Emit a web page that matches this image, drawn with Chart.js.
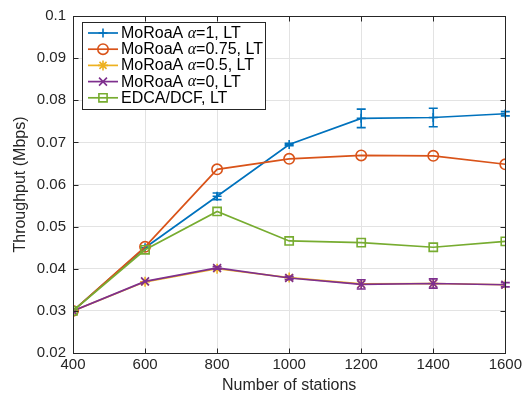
<!DOCTYPE html>
<html>
<head>
<meta charset="utf-8">
<script src="https://cdn.jsdelivr.net/npm/chart.js@4/dist/chart.umd.min.js"></script>
<style>
  html, body { margin: 0; padding: 0; background: #fff; }
  #wrap { width: 525px; height: 403px; position: relative; }
</style>
</head>
<body>
<div id="wrap"><canvas id="thr"></canvas></div>
<script>
// Throughput vs. number of stations
const STATIONS = [400, 600, 800, 1000, 1200, 1400, 1600];
const Y_TICKS  = [0.02, 0.03, 0.04, 0.05, 0.06, 0.07, 0.08, 0.09, 0.1];

const ALPHA_1    = [0.0300, 0.0450, 0.0572, 0.0695, 0.0757, 0.0759, 0.0768];
const ALPHA_1_ERR = [0, 0, 0.0008, 0.0003, 0.0022, 0.0022, 0.0005];
const ALPHA_075  = [0.0300, 0.0452, 0.0636, 0.0661, 0.0669, 0.0668, 0.0648];
const ALPHA_05   = [0.0300, 0.0369, 0.0400, 0.0379, 0.0364, 0.0365, 0.0362];
const ALPHA_0    = [0.0300, 0.0370, 0.0402, 0.0378, 0.0363, 0.0365, 0.0362];
const ALPHA_0_ERR = [0, 0, 0.0003, 0.0004, 0.0011, 0.0011, 0.0005];
const EDCA_DCF   = [0.0300, 0.0445, 0.0536, 0.0466, 0.0462, 0.0451, 0.0465];

const SERIES = [
    { pre: 'MoRoaA ', alpha: true, post: '=1, LT',    data: ALPHA_1,   err: ALPHA_1_ERR, color: '#0072BD', style: 'cross',    r: 4.5 },
    { pre: 'MoRoaA ', alpha: true, post: '=0.75, LT', data: ALPHA_075, err: null,        color: '#D95319', style: 'circle',   r: 5.2 },
    { pre: 'MoRoaA ', alpha: true, post: '=0.5, LT',  data: ALPHA_05,  err: null,        color: '#EDB120', style: 'star',     r: 5 },
    { pre: 'MoRoaA ', alpha: true, post: '=0, LT',    data: ALPHA_0,   err: ALPHA_0_ERR, color: '#7E2F8E', style: 'crossRot', r: 5.6 },
    { pre: 'EDCA/DCF, LT', alpha: false, post: '',    data: EDCA_DCF,  err: null,        color: '#77AC30', style: 'rect',     r: 5.8 },
];

const AXIS = '#262626';
const FONT = "'Liberation Sans', Arial, sans-serif";

const datasets = SERIES.map((s, i) => ({
    label: s.pre + (s.alpha ? 'α' : '') + s.post,
    data: STATIONS.map((x, j) => ({ x, y: s.data[j] })),
    borderColor: s.color,
    backgroundColor: 'rgba(0,0,0,0)',
    borderWidth: 1.7,
    pointStyle: s.style,
    pointRadius: s.r,
    pointBorderWidth: 1.6,
    pointBorderColor: s.color,
    pointBackgroundColor: 'rgba(0,0,0,0)',
    tension: 0,
    order: SERIES.length - i,   // later series drawn on top
    errors: s.err,
}));

// error bars, drawn right after their own series
const errorBars = {
    id: 'errorBars',
    afterDatasetDraw(chart, args) {
        const ds = chart.data.datasets[args.index];
        if (!ds.errors) return;
        const ys = chart.scales.y;
        const ctx = chart.ctx;
        ctx.save();
        ctx.strokeStyle = ds.borderColor;
        ctx.lineWidth = 1.6;
        args.meta.data.forEach((pt, j) => {
            const e = ds.errors[j];
            if (!e) return;
            const v = ds.data[j].y;
            const top = ys.getPixelForValue(v + e);
            const bot = ys.getPixelForValue(v - e);
            ctx.beginPath();
            ctx.moveTo(pt.x, top); ctx.lineTo(pt.x, bot);
            ctx.moveTo(pt.x - 4.5, top); ctx.lineTo(pt.x + 4.5, top);
            ctx.moveTo(pt.x - 4.5, bot); ctx.lineTo(pt.x + 4.5, bot);
            ctx.stroke();
        });
        ctx.restore();
    },
};

// box, inward ticks and the legend
const frame = {
    id: 'frame',
    afterDraw(chart) {
        const { ctx, chartArea: a, scales } = chart;
        const L = Math.round(a.left) + 0.5, R = Math.round(a.right) + 0.5;
        const T = Math.round(a.top) + 0.5, B = Math.round(a.bottom) + 0.5;
        ctx.save();
        ctx.strokeStyle = AXIS;
        ctx.lineWidth = 1;
        ctx.strokeRect(L, T, R - L, B - T);
        ctx.beginPath();
        STATIONS.forEach(v => {
            const x = Math.round(scales.x.getPixelForValue(v)) + 0.5;
            ctx.moveTo(x, B); ctx.lineTo(x, B - 5);
            ctx.moveTo(x, T); ctx.lineTo(x, T + 5);
        });
        Y_TICKS.forEach(v => {
            const y = Math.round(scales.y.getPixelForValue(v)) + 0.5;
            ctx.moveTo(L, y); ctx.lineTo(L + 5, y);
            ctx.moveTo(R, y); ctx.lineTo(R - 5, y);
        });
        ctx.stroke();

        // legend
        const bx = 82.5, by = 22.5, bw = 183, bh = 87, rowH = 16.2;
        ctx.fillStyle = '#fff';
        ctx.fillRect(bx, by, bw, bh);
        ctx.strokeStyle = AXIS;
        ctx.strokeRect(bx, by, bw, bh);
        const draw = Chart.helpers && Chart.helpers.drawPoint;
        SERIES.forEach((s, i) => {
            const cy = by + 10.5 + i * rowH;
            ctx.strokeStyle = s.color;
            ctx.lineWidth = 1.7;
            ctx.beginPath();
            ctx.moveTo(88, cy); ctx.lineTo(118, cy);
            ctx.stroke();
            if (draw) {
                ctx.lineWidth = 1.6;
                ctx.fillStyle = 'rgba(0,0,0,0)';
                draw(ctx, { pointStyle: s.style, radius: s.r, borderWidth: 1.6, rotation: 0 }, 103, cy);
            }
            ctx.fillStyle = '#000';
            ctx.textBaseline = 'middle';
            let tx = 121;
            ctx.font = '16px ' + FONT;
            ctx.fillText(s.pre, tx, cy + 0.5);
            tx += ctx.measureText(s.pre).width;
            if (s.alpha) {
                ctx.font = "italic 16px 'Liberation Serif', 'Times New Roman', serif";
                ctx.fillText('α', tx, cy + 0.5);
                tx += ctx.measureText('α').width;
                ctx.font = '16px ' + FONT;
                ctx.fillText(s.post, tx, cy + 0.5);
            }
        });
        ctx.restore();
    },
};

new Chart(document.getElementById('thr'), {
    type: 'line',
    data: { datasets },
    options: {
        responsive: true,
        maintainAspectRatio: false,
        animation: false,
        events: [],
        layout: { padding: { top: 12, right: 18, left: 0, bottom: 0 } },
        plugins: { legend: { display: false }, tooltip: { enabled: false } },
        scales: {
            x: {
                type: 'linear',
                min: 400, max: 1600,
                afterFit: s => { s.height = 50; },
                afterBuildTicks: s => { s.ticks = STATIONS.map(v => ({ value: v })); },
                ticks: { color: AXIS, font: { family: FONT, size: 15 }, padding: 3, maxRotation: 0,
                         callback: v => String(v) },
                grid: { color: '#e3e3e3', drawTicks: false },
                border: { display: false },
                title: { display: true, text: 'Number of stations', color: AXIS,
                         font: { family: FONT, size: 16 }, padding: { top: 0, bottom: 8 } },
            },
            y: {
                min: 0.02, max: 0.1,
                afterFit: s => { s.width = 73; },
                afterBuildTicks: s => { s.ticks = Y_TICKS.map(v => ({ value: v })); },
                ticks: { color: AXIS, font: { family: FONT, size: 15 }, padding: 7,
                         callback: v => String(+v.toFixed(2)) },
                grid: { color: '#e3e3e3', drawTicks: false },
                border: { display: false },
                title: { display: true, text: 'Throughput (Mbps)', color: AXIS,
                         font: { family: FONT, size: 16 }, padding: { top: 11, bottom: 0 } },
            },
        },
    },
    plugins: [errorBars, frame],
});
</script>
</body>
</html>
